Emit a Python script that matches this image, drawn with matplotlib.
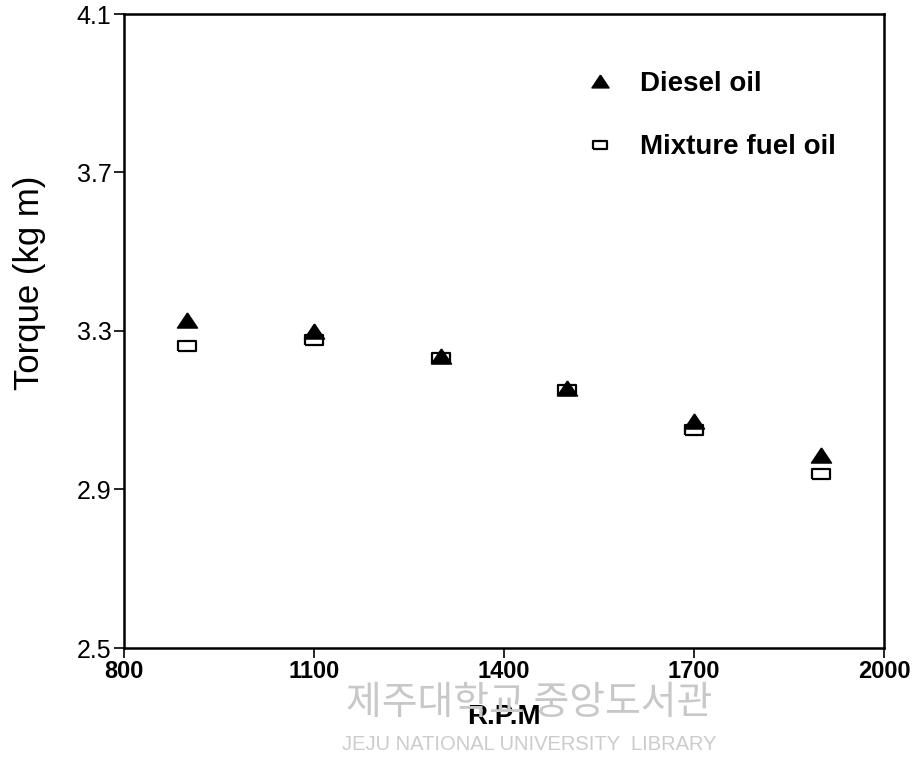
import matplotlib
matplotlib.use('Agg')
import matplotlib.pyplot as plt

# data
rpm = [900, 1100, 1300, 1500, 1700, 1900]
diesel = [3.329, 3.300, 3.236, 3.156, 3.072, 2.988]
mixture = [3.261, 3.277, 3.232, 3.151, 3.051, 2.940]
xticks = [800, 1100, 1400, 1700, 2000]
yticks = [2.5, 2.9, 3.3, 3.7, 4.1]

plt.rcParams['font.family'] = ['Liberation Sans', 'DejaVu Sans']

W, H = 922, 763
fig = plt.figure(figsize=(W / 100, H / 100), dpi=100)
ax = fig.add_axes([124 / W, 1 - 648 / H, 760 / W, 634 / H])

# library watermark (drawn under everything)
fig.text(529 / W, 1 - 703 / H, '제주대학교 중앙도서관', ha='center', va='center', fontsize=28,
         color='#c8c8c8', family=['Noto Sans CJK KR', 'DejaVu Sans'], zorder=0)
fig.text(529 / W, 1 - 744 / H, 'JEJU NATIONAL UNIVERSITY  LIBRARY', ha='center', va='center',
         fontsize=14.5, color='#cccccc', zorder=0)

tri = [(0, 0.75), (-1, -0.75), (1, -0.75), (0, 0.75)]
rect = [(-1, -0.6), (1, -0.6), (1, 0.6), (-1, 0.6), (-1, -0.6)]

ax.plot(rpm, mixture, linestyle='none', marker=rect, markersize=12.5, markerfacecolor='white',
        markeredgecolor='black', markeredgewidth=1.6, label='Mixture fuel oil', zorder=3)
ax.plot(rpm, diesel, linestyle='none', marker=tri, markersize=14.5, color='black',
        label='Diesel oil', zorder=4)

ax.set_xlim(800, 2000)
ax.set_ylim(2.5, 4.1)
ax.set_xticks(xticks)
ax.set_yticks(yticks)
ax.set_xticklabels([str(v) for v in xticks])
ax.set_yticklabels(['%.1f' % v for v in yticks])
ax.tick_params(direction='out', length=7, width=1.2, pad=2)
ax.tick_params(axis='x', labelsize=17)
ax.tick_params(axis='y', labelsize=18)
for lab in ax.get_xticklabels():
    lab.set_fontweight('bold')
for s in ax.spines.values():
    s.set_linewidth(1.8)

ax.set_xlabel('R.P.M', fontsize=20, fontweight='bold', labelpad=15)
fig.text(29 / W, 1 - 283 / H, 'Torque (kg m)', rotation=90, ha='center', va='center',
         fontsize=25)

h, l = ax.get_legend_handles_labels()
ax.legend(h[::-1], l[::-1], loc='upper left', bbox_to_anchor=(0.593, 0.928), frameon=False,
          prop={'size': 20, 'weight': 'bold'}, handlelength=1.0, handletextpad=0.95,
          labelspacing=1.35, markerscale=0.85, borderaxespad=0)

fig.savefig('out.png', dpi=100)
